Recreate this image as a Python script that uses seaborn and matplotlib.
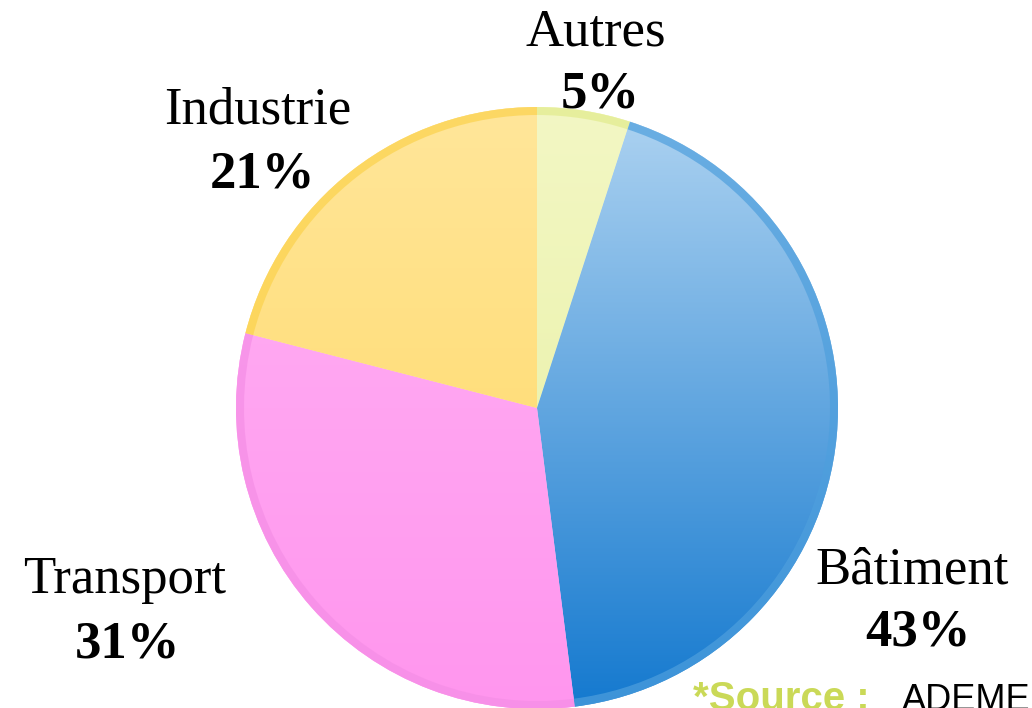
import numpy as np
import matplotlib
matplotlib.use("Agg")
import matplotlib.pyplot as plt
from matplotlib.colors import LinearSegmentedColormap
import seaborn as sns

# data
labels = ["Autres", "Bâtiment", "Transport", "Industrie"]
shares = [5, 43, 31, 21]
top_colors = ["#f3f7c4", "#aed3f1", "#ffb2f4", "#ffe69a"]
bottom_colors = ["#e6ef9e", "#1479cf", "#ff96ee", "#ffd75e"]
rim_colors = ["#e2ec8c", "#4e9fdd", "#f58ee6", "#fbd24c"]

# label anchors (pixel coords) for name / percent
label_pos = {
    "Autres": (596, 32, 600, 95),
    "Bâtiment": (912, 570, 918, 632),
    "Transport": (125, 580, 128, 645),
    "Industrie": (258, 110, 262, 175),
}

W, H = 1032, 708
sns.set_theme(style="white")
plt.rcParams["font.family"] = ["Liberation Serif", "DejaVu Serif"]

fig = plt.figure(figsize=(W / 100, H / 100), dpi=100)
ax = fig.add_axes([0, 0, 1, 1])

cx, cy, R = 537, H - 408, 301

wedges, _ = ax.pie(shares, startangle=90, counterclock=False, center=(cx, cy),
                   radius=R, colors=top_colors, frame=True,
                   wedgeprops=dict(linewidth=0))

# vertical gradient inside each wedge
grad = np.linspace(0, 1, 256).reshape(-1, 1)
for w, c0, c1 in zip(wedges, top_colors, bottom_colors):
    cmap = LinearSegmentedColormap.from_list("g", [c1, c0])
    im = ax.imshow(grad, cmap=cmap, extent=(cx - R, cx + R, cy - R, cy + R),
                   aspect="auto", origin="lower", zorder=2, vmin=0, vmax=1)
    im.set_clip_path(w)

# darker rim
ax.pie(shares, startangle=90, counterclock=False, center=(cx, cy), radius=R,
       colors=rim_colors, frame=True,
       wedgeprops=dict(width=8, linewidth=0, alpha=0.7, zorder=3))
ax.set_xlim(0, W)
ax.set_ylim(0, H)
ax.axis("off")

for name, pct in zip(labels, shares):
    x1, y1, x2, y2 = label_pos[name]
    ax.text(x1, H - y1, name, ha="center", va="center", fontsize=38, color="black", zorder=5)
    ax.text(x2, H - y2, f"{pct}%", ha="center", va="center", fontsize=38,
            fontweight="bold", color="black", zorder=5)

# source note, cut at the bottom edge as in the original slide
sans = ["Liberation Sans", "DejaVu Sans"]
ax.text(693, -2, "*Source :", ha="left", va="baseline", fontsize=29,
        fontweight="heavy", color="#cad957", family=sans, zorder=5)
ax.text(902, -2, "ADEME", ha="left", va="baseline", fontsize=26,
        color="black", family=sans, zorder=5)

fig.savefig("out.png", dpi=100)
